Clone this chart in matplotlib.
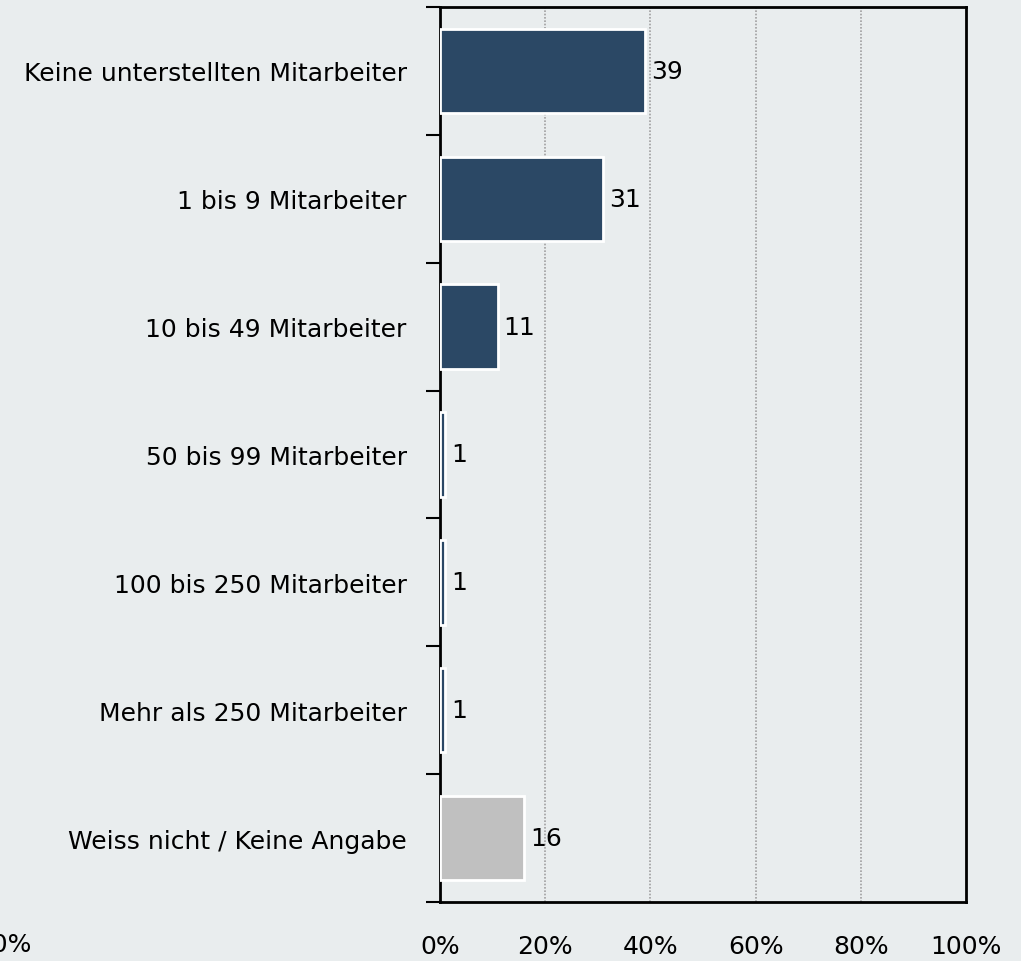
import numpy as np
import matplotlib
matplotlib.use("Agg")
import matplotlib.pyplot as plt

categories = ["Keine unterstellten Mitarbeiter", "1 bis 9 Mitarbeiter", "10 bis 49 Mitarbeiter",
              "50 bis 99 Mitarbeiter", "100 bis 250 Mitarbeiter", "Mehr als 250 Mitarbeiter",
              "Weiss nicht / Keine Angabe"]
values = [39, 31, 11, 1, 1, 1, 16]
colors = ["#2b4865"] * 6 + ["#c0c0c0"]
xticks = [0, 20, 40, 60, 80, 100]
xtick_labels = ["0%", "20%", "40%", "60%", "80%", "100%"]

bg = "#e9edee"
fs = 18
plt.rcParams['font.family'] = ['DejaVu Sans']

fig = plt.figure(figsize=(10.21, 9.62), dpi=100, facecolor=bg)
ax = fig.add_axes([440 / 1021, 1 - 903 / 962, 526 / 1021, 895 / 962])
ax.set_facecolor(bg)

y = np.arange(len(categories))
ax.barh(y, values, height=0.66, color=colors, edgecolor="white", linewidth=2, zorder=3)
for yi, v in zip(y, values):
    ax.text(v + 1.1, yi, str(v), va="center", ha="left", fontsize=fs, zorder=4)

ax.set_xlim(0, 100)
ax.set_ylim(len(categories) - 0.5, -0.5)

# ticks between categories on the left
ax.set_yticks(np.arange(len(categories) + 1) - 0.5)
ax.set_yticklabels([])
ax.set_yticks(y, minor=True)
ax.set_yticklabels(categories, minor=True, fontsize=fs)
ax.tick_params(axis="y", which="major", length=10, width=1.5, direction="out")
ax.tick_params(axis="y", which="minor", length=0, pad=24)

ax.set_xticks(xticks)
ax.set_xticklabels(xtick_labels, fontsize=fs)
ax.tick_params(axis="x", length=0, pad=23)

for x in xticks[1:-1]:
    ax.axvline(x, color="#a0a0a0", linestyle=(0, (1, 1)), linewidth=1.2, zorder=1)

for s in ax.spines.values():
    s.set_linewidth(2)
    s.set_color("black")

# stray label cut off at left edge
fig.text(32 / 1021, 1 - 945 / 962, "100%", ha="right", va="center", fontsize=fs)

fig.savefig("out.png", dpi=100, facecolor=bg)
